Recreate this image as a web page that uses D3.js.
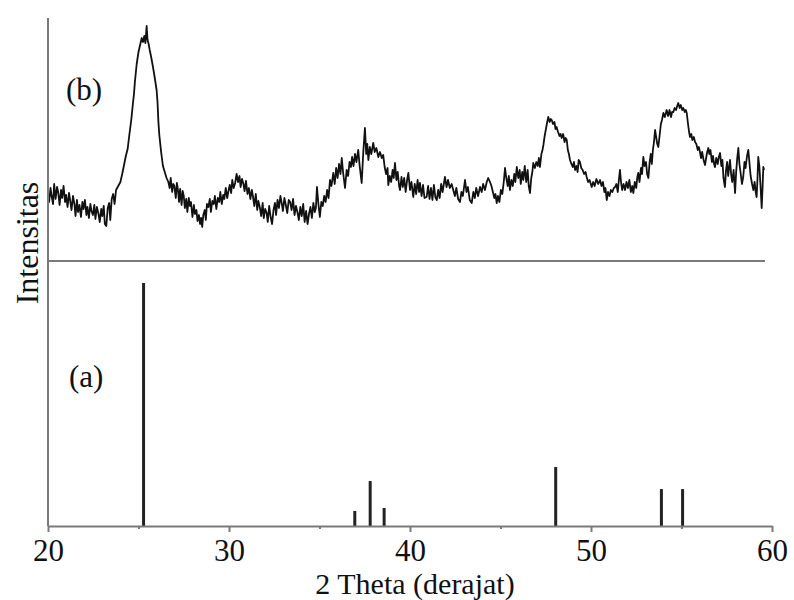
<!DOCTYPE html>
<html><head><meta charset="utf-8">
<script src="https://cdn.jsdelivr.net/npm/d3@7"></script>
<style>body{margin:0;background:#fff}svg{display:block}</style>
</head><body>
<svg id="c" width="794" height="600"></svg>
<script>
// Tick labels
const xTicks = [20, 30, 40, 50, 60];
const xMinorTicks = [25, 35, 45, 55];
// (a) reference stick pattern
const stickTheta = [25.28, 36.95, 37.80, 38.57, 48.05, 53.89, 55.06];
const stickIntensity = [100, 6.2, 18.5, 7.4, 24.3, 15.2, 15.2];
// (b) measured pattern: [2theta, intensity]
const patternB = [
[20.00,66],[20.06,60],[20.14,74],[20.20,66],[20.28,58],[20.34,78],[20.42,63],[20.50,75],[20.56,70],[20.64,57],[20.72,72],[20.78,64],[20.86,76],[20.94,60],[21.00,67],[21.08,55],[21.16,69],[21.22,62],[21.30,52],[21.38,66],[21.46,58],[21.52,46],[21.60,62],[21.66,50],[21.74,57],[21.82,45],[21.90,60],[21.96,53],[22.04,62],[22.12,47],[22.18,55],[22.26,44],[22.34,58],[22.40,51],[22.48,47],[22.56,57],[22.62,43],[22.70,55],[22.78,49],[22.86,40],[22.94,53],[23.00,46],[23.08,56],[23.14,38],[23.22,36],[23.30,54],[23.38,59],[23.44,42],[23.52,63],[23.60,68],[23.68,58],[23.76,72],
[23.85,75],[24.00,80],[24.10,88],[24.20,97],[24.30,106],[24.40,113],[24.50,128],[24.60,142],[24.70,160],[24.75,168],[24.80,180],[24.90,198],[25.00,210],[25.10,218],[25.18,224],[25.25,220],[25.32,226],[25.38,219],[25.45,236],[25.50,222],[25.56,218],[25.62,212],[25.70,205],[25.80,195],[25.90,184],[26.00,172],[26.05,160],[26.10,140],[26.15,127],[26.25,110],[26.35,96],[26.45,90],[26.55,84],[26.65,80],
[26.72,74],[26.78,84],[26.86,70],[26.92,78],[26.98,76],[27.06,64],[27.12,79],[27.18,72],[27.24,60],[27.30,73],[27.38,57],[27.44,71],[27.50,66],[27.56,54],[27.64,63],[27.70,50],[27.78,64],[27.84,56],[27.90,60],[27.98,45],[28.06,57],[28.12,48],[28.20,52],[28.26,41],[28.34,47],[28.40,38],[28.46,44],[28.52,35],[28.58,47],[28.66,52],[28.72,42],[28.78,58],[28.86,55],[28.94,63],[29.00,50],[29.08,61],[29.16,58],[29.22,66],[29.30,53],[29.38,64],[29.46,60],[29.52,70],[29.60,58],[29.68,67],[29.74,63],[29.82,74],[29.90,64],[29.96,70],[30.04,77],[30.12,69],[30.18,82],[30.26,74],[30.34,79],[30.42,88],[30.50,80],[30.58,86],[30.64,75],[30.72,83],[30.80,78],[30.86,71],[30.94,81],[31.02,68],[31.10,74],[31.18,63],[31.26,72],[31.32,66],[31.40,56],[31.48,68],[31.56,52],[31.62,61],[31.70,55],[31.78,46],[31.86,59],[31.92,44],[32.00,53],[32.08,49],[32.14,40],[32.22,56],[32.30,45],[32.38,38],[32.46,52],[32.54,59],[32.60,47],[32.68,62],[32.76,54],[32.84,66],[32.92,58],[32.98,51],[33.06,64],[33.14,57],[33.22,49],[33.30,62],[33.38,60],[33.46,52],[33.54,63],[33.62,47],[33.70,56],[33.78,50],[33.86,42],[33.94,55],[34.02,46],[34.10,58],[34.18,40],[34.26,51],[34.34,38],[34.42,48],[34.50,55],[34.58,44],[34.66,59],[34.74,50],[34.80,54],
[34.86,75],[34.94,58],[35.02,45],[35.10,60],[35.18,56],[35.26,66],[35.34,60],[35.42,72],[35.50,64],[35.58,82],[35.66,76],[35.76,89],[35.84,78],[35.92,94],[36.00,84],[36.08,98],[36.16,88],[36.23,104],[36.30,90],[36.41,74],[36.50,92],[36.58,86],[36.66,100],[36.74,95],[36.80,105],[36.88,96],[36.96,108],[37.04,100],[37.14,112],[37.22,96],[37.33,79],[37.42,110],[37.51,134],[37.58,108],[37.64,118],[37.70,102],[37.78,115],[37.86,108],[37.97,119],[38.05,110],[38.14,114],[38.25,105],[38.34,110],[38.44,104],[38.52,107],[38.60,95],[38.68,88],[38.76,94],[38.80,77],[38.88,86],[38.96,80],[39.04,92],[39.10,84],[39.17,99],[39.25,82],[39.32,90],[39.40,76],[39.45,72],[39.53,85],[39.60,75],[39.68,84],[39.76,70],[39.84,82],[39.91,89],[40.00,72],[40.08,80],[40.18,65],[40.26,78],[40.34,68],[40.42,82],[40.50,70],[40.55,79],[40.64,66],[40.72,77],[40.80,64],[40.92,65],[41.00,76],[41.08,63],[41.16,74],[41.24,62],[41.32,77],[41.40,65],[41.48,62],[41.56,72],[41.64,64],[41.72,78],[41.80,70],[41.93,85],[42.02,75],[42.10,82],[42.20,74],[42.30,78],[42.39,72],[42.48,66],[42.56,74],[42.66,63],[42.76,60],[42.84,70],[42.92,66],[43.04,82],[43.12,70],[43.20,75],[43.30,62],[43.41,59],[43.50,70],[43.58,64],[43.66,74],[43.76,66],[43.87,75],[43.96,70],[44.04,78],[44.14,72],[44.24,80],[44.32,84],[44.42,80],[44.50,76],[44.58,70],[44.66,64],[44.72,68],[44.79,59],[44.86,66],[44.94,60],[45.02,72],[45.10,68],[45.18,80],[45.25,94],[45.32,84],[45.40,76],[45.46,86],[45.52,72],[45.60,82],[45.68,76],[45.76,88],[45.82,80],[45.90,95],[45.98,84],[46.06,92],[46.12,78],[46.20,90],[46.26,82],[46.34,96],[46.42,80],[46.50,92],[46.56,76],[46.63,69],[46.70,84],[46.76,90],[46.81,99],[46.90,94],[46.98,100],[47.06,96],[47.12,104],[47.18,95],[47.26,108],[47.32,112],[47.37,117],[47.44,126],[47.50,132],[47.56,138],[47.64,145],[47.72,140],[47.78,143],[47.83,142],[47.90,138],[47.98,140],[48.04,133],[48.10,135],[48.18,130],[48.26,126],[48.32,128],[48.38,124],[48.46,128],[48.54,120],[48.60,124],[48.66,122],[48.72,112],[48.78,108],[48.84,102],[48.92,98],[49.00,95],[49.06,100],[49.12,92],[49.20,96],[49.26,90],[49.32,102],[49.39,100],[49.46,94],[49.54,92],[49.62,88],[49.70,90],[49.76,85],[49.84,80],[49.92,82],[50.04,75],[50.12,80],[50.20,76],[50.30,83],[50.40,78],[50.50,82],[50.58,76],[50.66,80],[50.74,70],[50.80,74],[50.87,62],[50.94,70],[51.02,66],[51.10,72],[51.18,70],[51.26,74],[51.33,75],[51.40,78],[51.48,70],[51.54,82],[51.60,92],[51.66,80],[51.72,72],[51.80,78],[51.88,72],[51.96,80],[52.04,74],[52.12,82],[52.20,70],[52.28,76],[52.34,69],[52.42,80],[52.50,74],[52.56,85],[52.61,89],[52.68,80],[52.76,94],[52.82,88],[52.89,105],[52.96,96],[53.04,100],[53.10,88],[53.17,84],[53.24,100],[53.30,108],[53.36,98],[53.42,112],[53.48,120],[53.54,132],[53.60,125],[53.66,118],[53.72,115],[53.80,128],[53.86,138],[53.92,142],[54.00,149],[54.08,145],[54.18,152],[54.26,146],[54.34,152],[54.42,145],[54.48,150],[54.55,150],[54.62,154],[54.70,152],[54.76,156],[54.82,159],[54.90,154],[54.96,157],[55.04,152],[55.10,154],[55.18,150],[55.24,152],[55.29,149],[55.36,138],[55.42,130],[55.47,125],[55.54,128],[55.60,122],[55.68,125],[55.75,120],[55.82,118],[55.90,112],[55.96,115],[56.02,110],[56.08,104],[56.14,110],[56.22,102],[56.30,97],[56.36,104],[56.42,110],[56.48,114],[56.54,108],[56.60,112],[56.68,100],[56.74,106],[56.80,98],[56.85,95],[56.92,104],[57.00,98],[57.06,105],[57.13,109],[57.20,96],[57.26,102],[57.32,84],[57.40,75],[57.46,92],[57.52,100],[57.58,86],[57.64,96],[57.68,102],[57.74,88],[57.80,80],[57.88,92],[57.96,69],[58.02,90],[58.08,104],[58.14,114],[58.20,98],[58.26,90],[58.34,78],[58.41,85],[58.48,100],[58.54,94],[58.62,106],[58.69,112],[58.76,98],[58.82,86],[58.90,78],[58.97,72],[59.04,80],[59.10,70],[59.15,65],[59.20,84],[59.24,105],[59.30,96],[59.36,78],[59.43,54],[59.48,75],[59.52,95],[59.56,92]
];

const svg = d3.select("#c");
const font = "'Liberation Serif','Times New Roman',serif";
const axisColor = "#7a7a7a";
const fs = 31;

const x = d3.scaleLinear().domain([20, 60]).range([48, 772]);
const yTop = d3.scaleLinear().domain([0, 240]).range([262, 22]);
const yBot = d3.scaleLinear().domain([0, 100]).range([526, 283]);

// curve (b)
svg.append("path")
  .datum(patternB)
  .attr("fill", "none")
  .attr("stroke", "#111")
  .attr("stroke-width", 1.8)
  .attr("stroke-linejoin", "round")
  .attr("d", d3.line().x(d => x(d[0])).y(d => yTop(d[1])));

// sticks (a)
svg.append("g").selectAll("line")
  .data(stickTheta.map((t, i) => [t, stickIntensity[i]]))
  .join("line")
  .attr("x1", d => x(d[0])).attr("x2", d => x(d[0]))
  .attr("y1", yBot(0)).attr("y2", d => yBot(d[1]))
  .attr("stroke", "#222").attr("stroke-width", 3);

// separator line
svg.append("line")
  .attr("x1", x(20)).attr("x2", 765)
  .attr("y1", 261).attr("y2", 261)
  .attr("stroke", axisColor).attr("stroke-width", 2);

// left axis line
svg.append("line")
  .attr("x1", x(20)).attr("x2", x(20))
  .attr("y1", 18).attr("y2", yBot(0))
  .attr("stroke", axisColor).attr("stroke-width", 2);

// x axis
const xAxis = d3.axisBottom(x).tickValues(xTicks).tickSize(6).tickSizeOuter(0).tickFormat(d3.format("d"));
const gx = svg.append("g").attr("transform", `translate(0,${yBot(0)})`).call(xAxis);
gx.select(".domain").attr("stroke", axisColor).attr("stroke-width", 2);
gx.selectAll(".tick line").attr("stroke", axisColor).attr("stroke-width", 2);
gx.selectAll(".tick text").attr("font-family", font).attr("font-size", fs).attr("fill", "#111").attr("dy", null).attr("y", 35);
const gxm = d3.axisBottom(x).tickValues(xMinorTicks).tickSize(3).tickFormat("");
const gm = svg.append("g").attr("transform", `translate(0,${yBot(0)})`).call(gxm);
gm.select(".domain").remove();
gm.selectAll(".tick line").attr("stroke", axisColor).attr("stroke-width", 2);

// labels
svg.append("text").attr("x", 415).attr("y", 594).attr("text-anchor", "middle")
  .attr("font-family", font).attr("font-size", 30).attr("fill", "#111").text("2 Theta (derajat)");
svg.append("text").attr("transform", "translate(38,243) rotate(-90)").attr("text-anchor", "middle")
  .attr("font-family", font).attr("font-size", 32).attr("fill", "#111").text("Intensitas");
svg.append("text").attr("x", 66).attr("y", 100)
  .attr("font-family", font).attr("font-size", fs).attr("fill", "#111").text("(b)");
svg.append("text").attr("x", 69).attr("y", 387)
  .attr("font-family", font).attr("font-size", fs).attr("fill", "#111").text("(a)");
</script>
</body></html>
